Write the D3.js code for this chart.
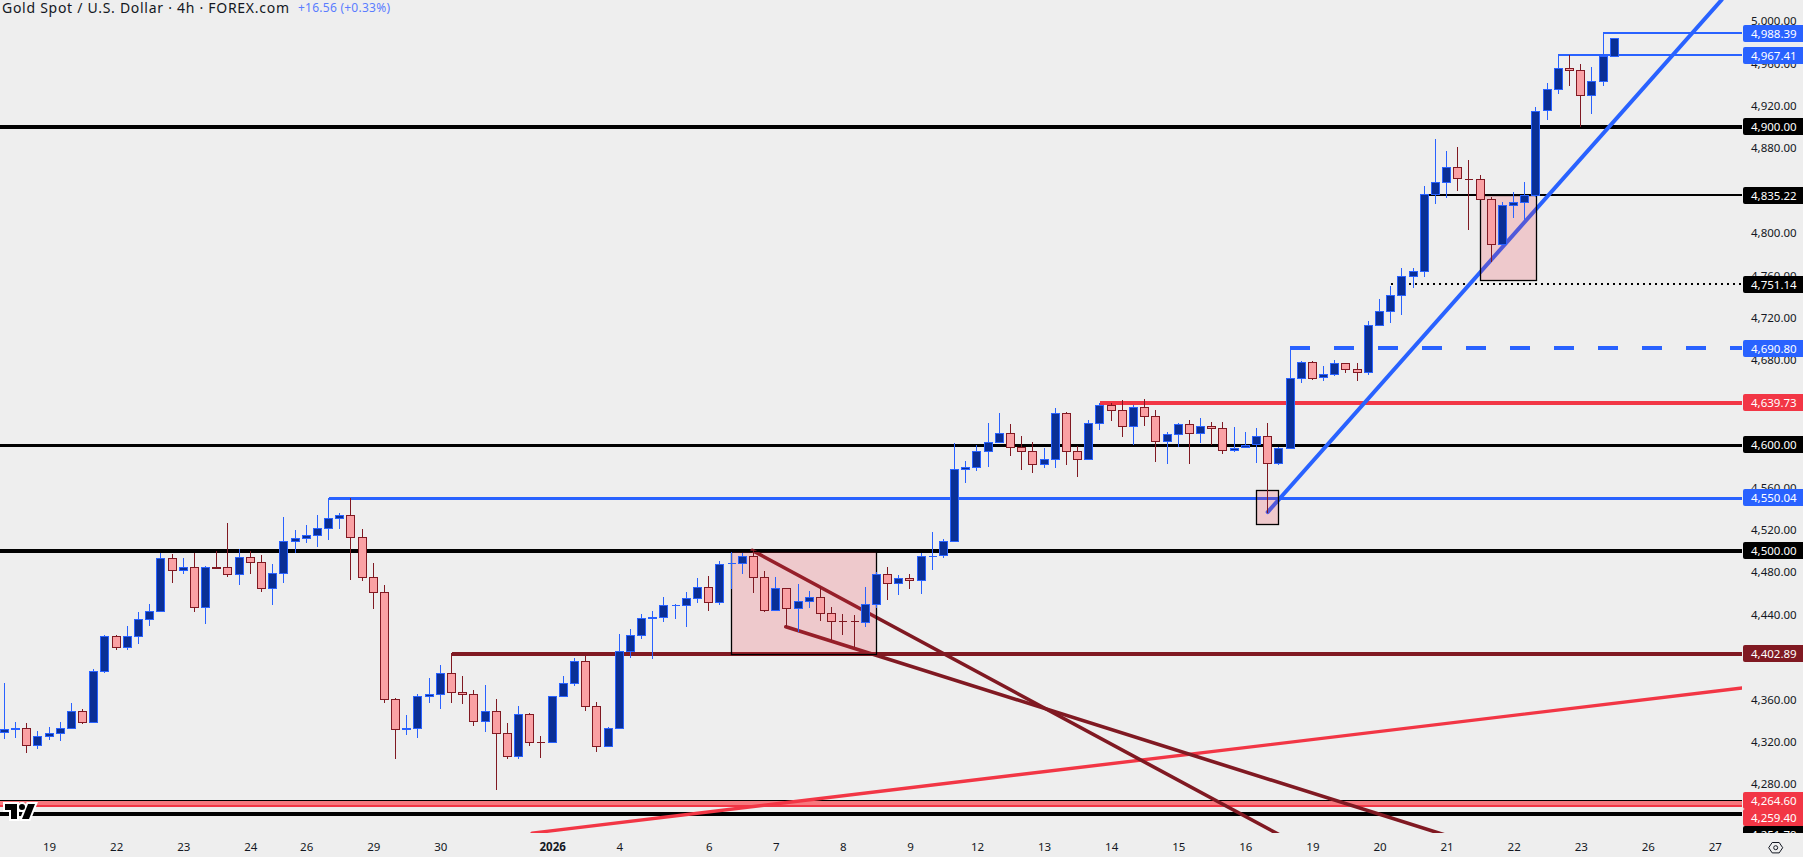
<!DOCTYPE html>
<html><head><meta charset="utf-8">
<script src="https://cdn.jsdelivr.net/npm/d3@7/dist/d3.min.js"></script>
<style>html,body{margin:0;padding:0;background:#eeeeee;overflow:hidden}svg{display:block}text{font-family:"Noto Sans","Liberation Sans",Arial,sans-serif}</style>
</head><body><svg id="c" width="1803" height="857"></svg>
<script>
const opens=[4328.5,4332.1,4332.3,4316.3,4325.4,4327.6,4332.3,4348.3,4338.0,4386.1,
4419.1,4408.7,4419.1,4435.1,4442.7,4492.7,4481.4,4484.2,4446.5,4484.4,
4484.2,4477.6,4493.6,4488.9,4464.4,4478.5,4508.7,4511.6,4514.4,4521.0,
4530.4,4533.3,4512.5,4474.8,4460.6,4359.7,4332.1,4332.3,4362.5,4364.4,
4384.2,4366.3,4364.4,4338.9,4348.4,4327.6,4305.9,4345.6,4319.2,4319.1,
4362.5,4374.8,4395.6,4353.1,4315.4,4332.3,4405.0,4420.1,4436.9,4437.1,
4448.3,4448.4,4455.0,4465.4,4451.2,4487.9,4488.0,4494.6,4474.8,4443.7,
4464.4,4445.6,4452.2,4455.9,4440.8,4433.4,4433.7,4432.3,4449.3,4477.6,
4469.2,4473.9,4472.0,4495.1,4495.6,4508.8,4576.7,4578.6,4593.7,4602.2,
4610.7,4597.5,4593.7,4581.4,4586.1,4629.6,4593.7,4586.1,4620.1,4637.1,
4632.4,4617.3,4635.2,4626.7,4603.1,4609.7,4619.2,4610.7,4617.3,4615.4,
4594.6,4597.5,4600.3,4607.8,4582.4,4596.5,4662.6,4677.7,4663.5,4666.3,
4676.7,4671.1,4668.2,4712.6,4725.8,4740.9,4758.8,4763.5,4836.2,4847.5,
4861.6,4851.1,4850.3,4831.4,4789.0,4825.8,4828.6,4835.3,4915.5,4935.3,
4955.1,4953.2,4929.7,4942.9,4966.8];
const highs=[4375.1,4338.0,4337.0,4329.5,4333.6,4338.0,4355.9,4350.2,4388.0,4420.4,
4420.0,4428.8,4442.1,4449.6,4497.7,4496.8,4493.0,4497.7,4485.5,4499.6,
4526.0,4501.2,4499.6,4495.8,4487.3,4531.7,4519.4,4524.1,4533.6,4550.0,
4535.5,4550.0,4520.1,4488.0,4467.2,4360.6,4344.6,4364.4,4379.5,4392.1,
4403.1,4381.7,4368.5,4372.9,4359.7,4337.0,4353.1,4346.5,4324.8,4362.5,
4381.4,4398.4,4401.5,4356.9,4333.6,4421.0,4426.1,4439.9,4442.7,4455.9,
4449.3,4460.7,4473.9,4475.7,4489.9,4499.0,4497.5,4501.2,4480.8,4474.8,
4464.4,4468.2,4461.9,4466.0,4446.5,4439.9,4439.0,4465.4,4480.2,4484.3,
4476.7,4477.6,4497.5,4517.3,4510.7,4601.2,4584.3,4599.4,4620.1,4629.9,
4619.2,4607.8,4602.2,4596.5,4634.3,4630.5,4598.4,4622.9,4639.6,4639.0,
4641.8,4637.1,4642.8,4632.4,4611.6,4620.1,4622.9,4624.8,4621.1,4621.1,
4616.3,4611.6,4615.4,4620.1,4598.1,4690.8,4678.6,4678.6,4673.9,4679.5,
4676.7,4676.7,4716.3,4737.1,4750.0,4766.3,4766.3,4844.0,4888.4,4876.7,
4880.5,4868.2,4854.1,4833.3,4828.6,4838.1,4847.5,4919.0,4941.0,4967.4,
4967.4,4958.9,4956.4,4988.4,4983.4];
const lows=[4322.5,4323.5,4309.3,4313.1,4321.3,4320.7,4332.3,4336.7,4338.0,4384.8,
4406.5,4406.5,4412.2,4429.2,4442.7,4469.7,4478.2,4442.4,4431.1,4483.9,
4475.4,4467.8,4478.2,4461.2,4448.7,4469.7,4498.0,4507.5,4503.7,4510.3,
4520.7,4472.6,4471.6,4445.2,4356.5,4303.0,4326.3,4323.5,4356.5,4350.9,
4356.6,4355.6,4334.9,4329.2,4274.5,4303.7,4303.7,4316.0,4304.7,4319.1,
4362.5,4372.6,4349.0,4310.3,4315.4,4332.3,4398.4,4416.9,4397.4,4433.0,
4435.8,4428.3,4450.3,4443.4,4449.0,4463.5,4478.3,4460.3,4442.4,4442.7,
4428.3,4423.6,4446.2,4433.9,4415.7,4420.4,4408.8,4428.3,4445.6,4453.7,
4458.5,4464.1,4459.4,4482.0,4493.4,4508.8,4564.1,4575.5,4579.2,4601.2,
4589.6,4576.4,4573.6,4578.3,4578.3,4581.1,4569.8,4586.1,4614.1,4622.6,
4607.5,4600.0,4617.9,4583.9,4582.1,4598.1,4582.1,4601.9,4600.0,4591.5,
4593.4,4597.2,4583.0,4535.8,4581.1,4596.5,4658.5,4661.3,4660.4,4665.1,
4667.9,4660.4,4666.0,4712.6,4715.1,4722.6,4748.1,4758.5,4827.4,4833.0,
4839.6,4802.8,4830.8,4772.6,4788.7,4814.2,4812.0,4834.0,4906.4,4931.2,
4938.5,4900.1,4912.4,4938.8,4966.8];
const closes=[4331.4,4332.5,4316.3,4325.4,4327.6,4332.3,4348.3,4338.0,4386.1,4419.1,
4408.7,4419.1,4435.1,4442.7,4492.7,4481.4,4484.2,4446.5,4484.2,4484.0,
4477.6,4493.6,4488.9,4464.4,4478.5,4508.7,4511.6,4514.4,4521.0,4530.4,
4533.3,4512.5,4474.8,4460.6,4359.7,4331.4,4332.5,4362.5,4364.4,4384.2,
4366.3,4364.4,4338.9,4348.4,4327.6,4305.9,4345.6,4319.1,4319.0,4362.5,
4374.8,4395.6,4353.1,4315.4,4332.3,4405.0,4420.1,4436.1,4437.2,4448.4,
4448.5,4455.0,4465.4,4451.2,4487.1,4488.1,4494.6,4474.8,4443.7,4464.4,
4445.6,4452.2,4455.9,4440.8,4433.3,4433.2,4433.5,4449.3,4477.6,4469.2,
4473.9,4472.0,4494.6,4495.4,4508.8,4576.7,4578.6,4593.7,4602.2,4610.7,
4597.5,4593.7,4581.4,4586.1,4629.6,4593.7,4586.1,4620.1,4637.1,4632.4,
4617.3,4635.2,4626.7,4603.1,4609.7,4619.2,4610.7,4617.3,4615.4,4594.6,
4597.2,4600.0,4607.8,4582.4,4596.5,4662.6,4677.7,4663.2,4666.3,4676.7,
4671.1,4668.2,4712.6,4725.8,4740.9,4758.8,4763.5,4836.2,4847.5,4861.6,
4851.3,4850.8,4831.4,4789.0,4825.8,4828.6,4835.2,4915.2,4935.3,4955.1,
4953.2,4929.7,4942.9,4966.8,4983.4];

const timeIndex=[4,10,16,22,27,33,39,49,55,63,69,75,81,87,93,99,105,111,117,123,129,135,141,147,153];
const timeLabels=["19","22","23","24","26","29","30","2026","4","6","7","8","9","12","13","14","15","16","19","20","21","22","23","26","27"];
const priceTicks=[5000,4960,4920,4880,4840,4800,4760,4720,4680,4640,4600,4560,4520,4480,4440,4400,4360,4320,4280];

// horizontal levels: price, first candle index (null = full pane), colour, width, dash
const levelPrices=[4900,4600,4500,4251.79,4835.22,4751.14,4690.80,4639.73,4550.04,4402.89,4988.39,4967.41,4264.60,4259.40];
const levelStarts=[null,null,null,null,127,124,115,98,29,40,143,139,null,null];
const levelColors=["#000","#000","#000","#000","#000","#000","#2962ff","#f23645","#2962ff","#801922","#2962ff","#2962ff","#000","#f23645"];
const levelWidths=[4,3,4,4,2,2,4,4,3,4,2,2,1,2];
const levelDashes=[null,null,null,null,null,"2 4","20 24",null,null,null,null,null,null,null];

// axis tags
const tagPrices=[4988.39,4967.41,4900,4835.22,4751.14,4690.80,4639.73,4600,4550.04,4500,4402.89,4264.60,4259.40,4251.79];
const tagFills=["#2962ff","#2962ff","#000","#000","#000","#2962ff","#f23645","#000","#2962ff","#000","#801922","#f23645","#f23645","#000"];

// trend lines: [index, price] pairs
const blueTrend=[[113,4536.4],[153.6,5019.6]];
const redTrend=[[47.2,4233.5],[155.6,4370.6]];
const wedgeUpper=[[66.9,4500.2],[114.1,4231.6]];
const wedgeLower=[[69.9,4428.2],[128.9,4231.6]];

// highlighted zones: [index from, index to, price top, price bottom]
const zones=[[65,78,4500,4402.89],[112,114,4556.9,4524.8],[132,137,4835.22,4755.0]];
const bandTop=4264.60,bandBottom=4259.40;

const paneR=1742,paneB=833;
const x=d3.scaleLinear().domain([0,144]).range([4.33,1614.25]);
const y=d3.scaleLinear().domain([4900,4251.79]).range([126.7,813.7]);
const fmt=d3.format(",.2f");
const svg=d3.select("#c");
svg.append("rect").attr("width",1803).attr("height",857).attr("fill","#eeeeee");
svg.append("defs").append("clipPath").attr("id","pane").append("rect").attr("width",paneR).attr("height",paneB);
svg.select("defs").append("clipPath").attr("id","axisClip").append("rect").attr("x",paneR).attr("width",1803-paneR).attr("height",paneB);
const pane=svg.append("g").attr("clip-path","url(#pane)");

// band
pane.append("rect").attr("x",0).attr("width",paneR).attr("y",y(bandTop)).attr("height",y(bandBottom)-y(bandTop)).attr("fill","#f7787e");

// levels
levelPrices.forEach((p,i)=>{
  const yy=Math.round(y(p))+(levelWidths[i]%2?.5:0);
  pane.append("line").attr("x1",levelStarts[i]==null?0:x(levelStarts[i])).attr("x2",paneR)
    .attr("y1",yy).attr("y2",yy).attr("stroke",levelColors[i]).attr("stroke-width",levelWidths[i])
    .attr("stroke-dasharray",levelDashes[i]).attr("shape-rendering","crispEdges");
});

// trends
[[redTrend,"#f23645",3.4],[wedgeUpper,"#801922",3.6],[wedgeLower,"#801922",3.6],[blueTrend,"#2962ff",4]].forEach(([t,c,w])=>{
  pane.append("line").attr("x1",x(t[0][0])).attr("y1",y(t[0][1])).attr("x2",x(t[1][0])).attr("y2",y(t[1][1]))
    .attr("stroke",c).attr("stroke-width",w).attr("stroke-linecap","round");
});

// zones
zones.forEach(z=>{
  pane.append("rect").attr("x",Math.round(x(z[0]))+.5).attr("y",Math.round(y(z[2]))+.5)
   .attr("width",Math.round(x(z[1])-x(z[0]))).attr("height",Math.round(y(z[3])-y(z[2])))
   .attr("fill","#f23645").attr("fill-opacity",.2).attr("stroke","#000").attr("stroke-width",1.3);
});

// candles
const gc=pane.append("g").attr("shape-rendering","crispEdges");
opens.forEach((o,i)=>{
  const c=closes[i],up=c>=o,cx=Math.floor(x(i));
  const stroke=up?"#2962ff":"#801922",fill=up?"#0a2f96":"#faa1a4";
  gc.append("line").attr("x1",cx+.5).attr("x2",cx+.5).attr("y1",y(highs[i])).attr("y2",y(lows[i])).attr("stroke",stroke);
  const t=Math.round(y(Math.max(o,c))),b=Math.round(y(Math.min(o,c)));
  gc.append("path").attr("d",`M${cx-3.5} ${t+.5}H${cx+4.5}V${b+.5}H${cx-3.5}Z`).attr("fill",fill).attr("stroke",stroke);
});

// TV logo
svg.append("path").attr("transform","translate(3,798)")
  .attr("d","M14 6H2v6h6v9h6V6zm12 15h-7l6-15h7l-6 15zm-7-9a3 3 0 1 0 0-6 3 3 0 0 0 0 6z")
  .attr("fill","#000").attr("stroke","#fff").attr("stroke-width",4).attr("paint-order","stroke").attr("stroke-linejoin","miter");

// price axis labels
const axisG=svg.append("g").attr("clip-path","url(#axisClip)");
const ax=d3.axisRight(y).tickValues(priceTicks).tickSize(0).tickPadding(0).tickFormat(fmt);
const gy=axisG.append("g").attr("transform","translate(1751,0)").call(ax);
gy.select(".domain").remove();
gy.selectAll("text").attr("fill","#131722").attr("font-size",11.5).attr("font-family","'Noto Sans'").attr("dy","0.35em").attr("x",0);

// tags with collision layout
const H=17;let lastBottom=-1e9;
tagPrices.forEach((p,i)=>{
  let top=Math.round(y(p)-H/2);
  if(top<lastBottom) top=lastBottom;
  lastBottom=top+H;
  axisG.append("rect").attr("x",1743).attr("y",top).attr("width",64).attr("height",H).attr("rx",2).attr("fill",tagFills[i]);
  axisG.append("text").attr("x",1751).attr("y",top+H/2).attr("dy","0.35em").attr("fill","#fff").attr("font-size",11.5).text(fmt(p));
});

// time axis
const gx=svg.append("g").attr("transform","translate(0,847)").call(
  d3.axisBottom(x).tickValues(timeIndex).tickSize(0).tickPadding(0).tickFormat((d,i)=>timeLabels[i]));
gx.select(".domain").remove();
gx.selectAll("text").attr("fill","#131722").attr("font-size",11.5).attr("font-family","'Noto Sans'").attr("dy","0.35em").attr("y",0)
  .attr("font-weight",(d,i)=>timeLabels[i]==="2026"?700:400);

// settings icon
svg.append("path").attr("transform","translate(1775.7,847.7)")
  .attr("d",d3.line()(d3.range(6).map(k=>[7*Math.cos(k*Math.PI/3),6*Math.sin(k*Math.PI/3)]))+"Z")
  .attr("fill","none").attr("stroke","#131722");
svg.append("circle").attr("cx",1775.7).attr("cy",847.7).attr("r",2).attr("fill","none").attr("stroke","#131722");

// title
svg.append("text").attr("x",2).attr("y",8).attr("dy","0.35em").attr("font-size",14).attr("fill","#131722")
  .attr("textLength",287).attr("lengthAdjust","spacing").text("Gold Spot / U.S. Dollar · 4h · FOREX.com");
svg.append("text").attr("x",298).attr("y",8).attr("dy","0.35em").attr("font-size",12).attr("fill","#5a7dff")
  .attr("textLength",92).attr("lengthAdjust","spacing").text("+16.56 (+0.33%)");
</script></body></html>
